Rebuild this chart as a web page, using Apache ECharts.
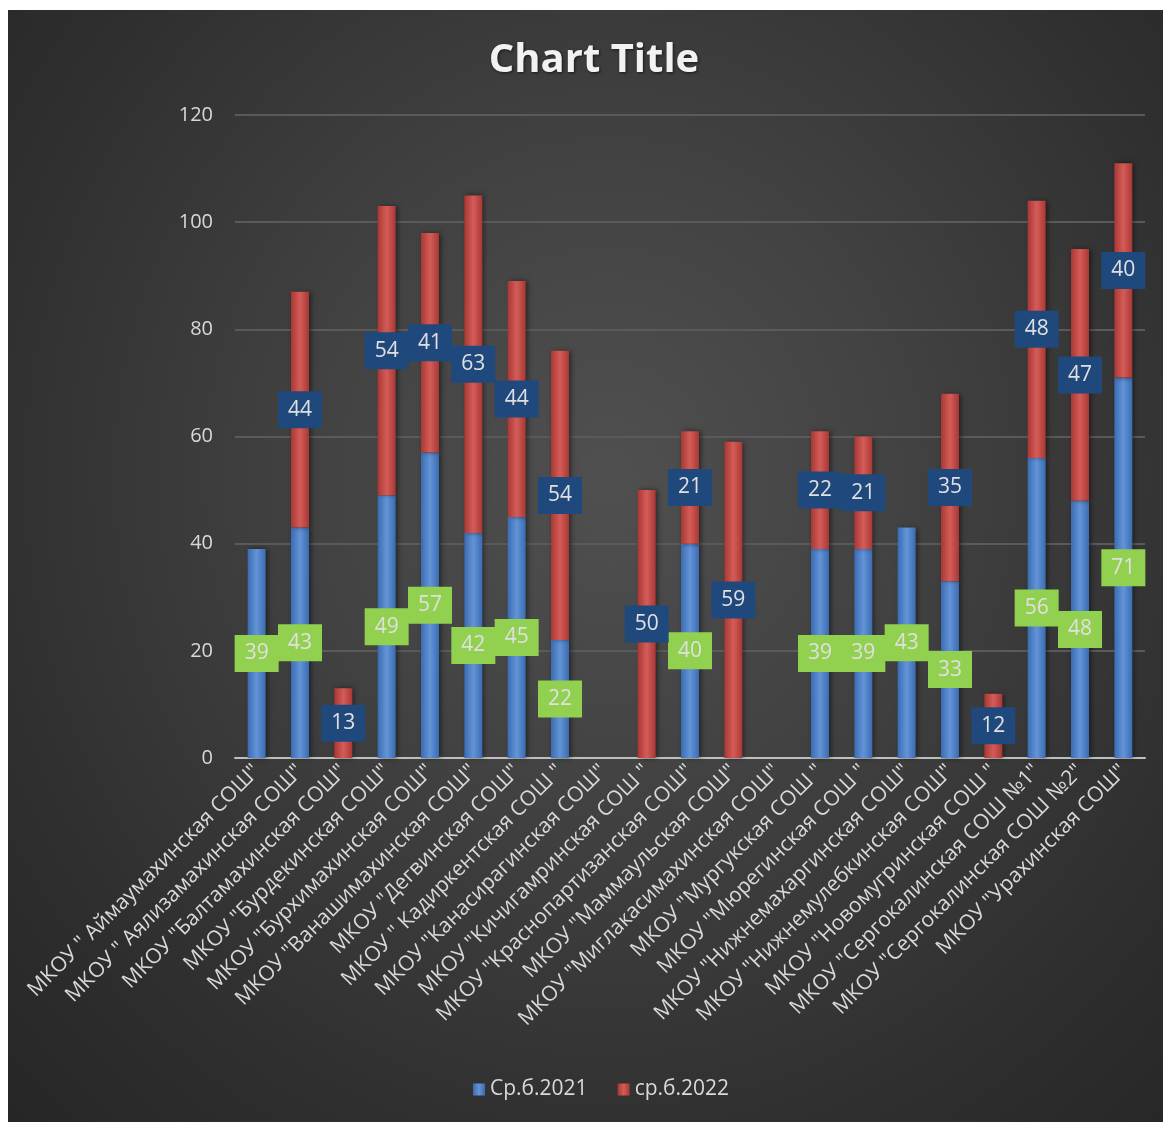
<!DOCTYPE html>
<html>
<head>
<meta charset="utf-8">
<script src="https://cdn.jsdelivr.net/npm/echarts@6/dist/echarts.min.js"></script>
<style>
html,body{margin:0;padding:0;background:#fff;}
#panel{position:absolute;left:8px;top:10px;width:1155px;height:1112px;
background:radial-gradient(ellipse at 52% 42%, #505050 0%, #424242 35%, #2f2f2f 75%, #262626 100%);}
#chart{position:absolute;left:0;top:0;width:1163px;height:1122px;}
</style>
</head>
<body>
<div id="panel"></div>
<div id="chart"></div>
<script>
const categories = [
  'МКОУ " Аймаумахинская СОШ"',
  'МКОУ " Аялизамахинская СОШ"',
  'МКОУ "Балтамахинская СОШ"',
  'МКОУ "Бурдекинская СОШ"',
  'МКОУ "Бурхимахинская СОШ"',
  'МКОУ "Ванашимахинская СОШ"',
  'МКОУ "Дегвинская СОШ"',
  'МКОУ " Кадиркентская СОШ "',
  'МКОУ "Канасирагинская СОШ"',
  'МКОУ "Кичигамринская СОШ "',
  'МКОУ "Краснопартизанская СОШ"',
  'МКОУ "Маммаульская СОШ"',
  'МКОУ "Миглакасимахинская СОШ"',
  'МКОУ "Мургукская СОШ "',
  'МКОУ "Мюрегинская СОШ "',
  'МКОУ "Нижнемахаргинская СОШ"',
  'МКОУ "Нижнемулебкинская СОШ"',
  'МКОУ "Новомугринская СОШ "',
  'МКОУ "Сергокалинская СОШ №1"',
  'МКОУ "Сергокалинская СОШ №2"',
  'МКОУ "Урахинская СОШ"'
];
const seriesNames = ['Ср.б.2021', 'ср.б.2022'];
const values2021 = [39, 43, null, 49, 57, 42, 45, 22, null, null, 40, null, null, 39, 39, 43, 33, null, 56, 48, 71];
const values2022 = [null, 44, 13, 54, 41, 63, 44, 54, null, 50, 21, 59, null, 22, 21, null, 35, 12, 48, 47, 40];
const yTicks = {min: 0, max: 120, interval: 20};

const FONT = '"Open Sans", "Noto Sans", sans-serif';
function hGrad(edge, mid) {
  return new echarts.graphic.LinearGradient(0, 0, 1, 0, [
    {offset: 0, color: edge}, {offset: 0.5, color: mid}, {offset: 1, color: edge}
  ]);
}
const chart = echarts.init(document.getElementById('chart'), null, {renderer: 'canvas'});
chart.setOption({
  backgroundColor: 'transparent',
  animation: false,
  title: {
    text: 'Chart Title', left: 589, top: 36, textAlign: 'center',
    textStyle: {color: '#f2f2f2', fontSize: 40, fontWeight: 'bold', fontFamily: FONT,
      textShadowColor: 'rgba(0,0,0,0.6)', textShadowBlur: 3, textShadowOffsetX: 1, textShadowOffsetY: 1}
  },
  legend: {
    bottom: 17, left: 468, itemWidth: 12, itemHeight: 12, icon: 'rect', itemGap: 30,
    textStyle: {color: '#d9d9d9', fontSize: 21, fontFamily: FONT},
    data: seriesNames
  },
  grid: {left: 235, right: 18, top: 115, bottom: 364},
  xAxis: {
    type: 'category', data: categories,
    axisLine: {lineStyle: {color: '#bfbfbf', width: 2}},
    axisTick: {show: false},
    axisLabel: {rotate: 45, interval: 0, color: '#d9d9d9', fontSize: 21, fontFamily: FONT, margin: 10}
  },
  yAxis: {
    type: 'value', min: yTicks.min, max: yTicks.max, interval: yTicks.interval,
    axisLine: {show: false}, axisTick: {show: false},
    axisLabel: {color: '#d9d9d9', fontSize: 20, fontFamily: FONT, margin: 22},
    splitLine: {lineStyle: {color: '#5a5a5a', width: 2}}
  },
  series: [
    {
      name: seriesNames[0], type: 'bar', stack: 'a', barWidth: 18, data: values2021,
      itemStyle: {color: hGrad('#3b6bb0', '#6494d8'), shadowColor: 'rgba(0,0,0,0.5)', shadowBlur: 5, shadowOffsetX: 2},
      label: {show: true, position: 'inside', color: '#e0e0e0', fontSize: 21, fontFamily: FONT,
        backgroundColor: '#92D050', padding: [9, 10, 7, 10]}
    },
    {
      name: seriesNames[1], type: 'bar', stack: 'a', barWidth: 18, data: values2022,
      itemStyle: {color: hGrad('#a83834', '#d45c58'), shadowColor: 'rgba(0,0,0,0.5)', shadowBlur: 5, shadowOffsetX: 2},
      label: {show: true, position: 'inside', color: '#e0e0e0', fontSize: 21, fontFamily: FONT,
        backgroundColor: '#1F497D', padding: [9, 10, 7, 10]}
    }
  ]
});
</script>
</body>
</html>
